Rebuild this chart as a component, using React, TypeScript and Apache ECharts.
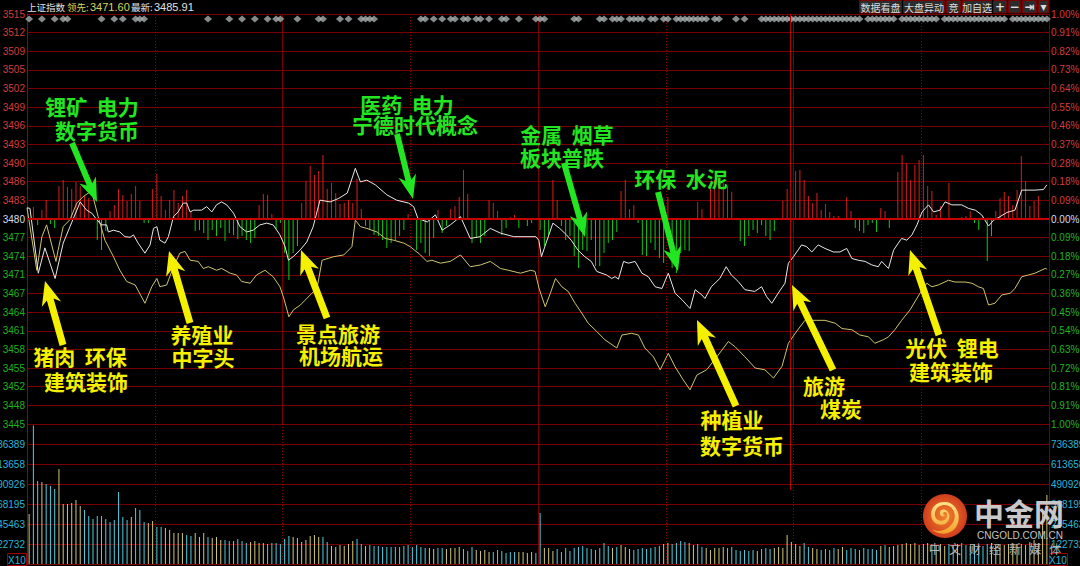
import React, { useEffect, useRef } from 'react';
import * as echarts from 'echarts';

// ---------------- data ----------------
const preClose = 3480.1;
const leadValue = '3471.60';
const lastValue = '3485.91';

// left price labels, top to bottom
const priceTickLabels = ['3515','3512','3509','3505','3502','3499','3496','3493','3490','3486','3483','3480','3477','3474','3471','3467','3464','3461','3458','3455','3452','3448','3445'];
// right percent labels, top to bottom
const pctTickLabels = ['1.00%','0.91%','0.82%','0.73%','0.64%','0.55%','0.46%','0.37%','0.28%','0.18%','0.09%','0.00%','0.09%','0.18%','0.27%','0.36%','0.45%','0.54%','0.63%','0.72%','0.81%','0.91%','1.00%'];
// volume labels, bottom to top
const volumeTickLabels = ['122732','245463','368195','490926','613658','736389'];
const volumeAxisStep = 122732;
const volumeAxisMax = 859124;

// [minute, price]
const whiteLine = [
[0,3482.0],[0.7,3481.9],[2.65,3470.9],[4.2,3475.2],[6.6,3470.0],[8.5,3476.0],[10.1,3478.8],[12.5,3483.0],[14,3481.6],[15.2,3481.1],[16.5,3479.9],[17.5,3479.1],[18.7,3479.1],[19.1,3477.9],[20.3,3478.2],[21.8,3477.9],[23,3477.1],[24.2,3477.0],[25,3477.4],[26.1,3476.0],[27.7,3474.3],[28.9,3475.7],[29.7,3478.5],[30.5,3478.8],[31.2,3476.5],[32.4,3476.0],[33.2,3477.1],[34.4,3480.5],[35.5,3481.3],[36.7,3482.8],[37.5,3482.8],[38.3,3481.3],[39.1,3481.6],[41,3481.6],[42.2,3482.2],[43.4,3481.3],[44.5,3482.5],[45.7,3483.0],[46.9,3482.5],[48.5,3481.1],[50,3478.8],[51.6,3477.9],[53.1,3478.2],[54.7,3479.1],[56.3,3479.4],[57.8,3479.1],[59.4,3477.4],[60.6,3475.4],[61.4,3473.1],[62.5,3473.7],[64.1,3474.8],[65.7,3476.2],[67.2,3478.8],[68.8,3483.3],[71.2,3483.0],[73.2,3483.6],[75.2,3484.5],[77.1,3488.7],[78.3,3486.4],[79.8,3486.7],[81.8,3485.9],[84.5,3484.2],[86.8,3483.3],[89.6,3482.8],[90.8,3482.2],[91.8,3480.2],[94,3479.6],[95.9,3480.8],[97.5,3478.2],[99.4,3479.1],[101.8,3480.5],[104.1,3476.8],[106.4,3477.1],[108.8,3478.5],[111.2,3477.7],[114.3,3477.1],[117.4,3477.1],[119.5,3477.1],[120.2,3476.5],[120.8,3473.7],[123.5,3479.4],[125.1,3478.5],[126.7,3477.4],[127.8,3476.5],[129.4,3474.8],[131,3473.7],[132.5,3472.9],[133.8,3471.2],[136.1,3470.6],[137.3,3470.0],[138.1,3470.3],[138.9,3469.9],[140.1,3472.9],[141.2,3472.6],[142.8,3472.9],[144.4,3470.9],[145.9,3470.3],[147.5,3468.6],[149.1,3468.3],[150.6,3470.9],[152.2,3467.5],[153.8,3466.4],[155.7,3464.9],[156.9,3468.1],[158.5,3467.2],[159.2,3466.6],[160.7,3468.6],[162.7,3470.0],[164.2,3472.0],[165.4,3470.6],[167,3469.5],[168.6,3468.1],[170.9,3467.8],[172.5,3468.6],[173.7,3466.9],[174.9,3465.8],[176.4,3467.5],[178,3469.2],[178.8,3472.6],[180,3473.7],[181.9,3475.7],[183.1,3475.4],[184.3,3474.5],[185.8,3475.7],[187.4,3475.1],[189.4,3474.5],[190.9,3474.5],[192.5,3475.1],[193.7,3473.4],[195.2,3473.1],[196.8,3472.9],[198.4,3472.3],[199.9,3472.0],[200.7,3472.9],[202.3,3471.7],[203.5,3474.8],[204.6,3476.0],[205.4,3476.8],[206.6,3476.5],[207.8,3477.4],[209,3479.1],[210.2,3481.3],[211.7,3482.5],[212.9,3481.3],[214.4,3481.6],[215.6,3483.0],[217.2,3482.5],[219.5,3482.5],[221.1,3481.9],[222.7,3481.6],[224.2,3480.8],[225.8,3478.9],[227,3479.9],[228.5,3480.5],[230.1,3481.2],[232,3481.6],[233.6,3485.0],[235.1,3485.0],[236.7,3485.0],[238.7,3485.1],[239.5,3485.9]
];

const yellowLine = [
[0,3482.0],[2.3,3471.4],[3.5,3477.1],[4.6,3479.1],[6.8,3472.9],[7.3,3474.8],[8.5,3478.8],[10.1,3480.0],[11.7,3482.8],[13.2,3483.9],[14.8,3484.7],[15.5,3483.9],[16.7,3480.5],[18.3,3476.5],[20.3,3473.7],[21.8,3471.4],[23.4,3469.5],[25.4,3468.9],[27.7,3465.8],[29.3,3468.6],[30.5,3470.0],[31.2,3468.6],[32.8,3468.9],[34.4,3472.0],[35.9,3474.3],[37.1,3474.6],[38.3,3473.1],[40.2,3472.9],[41.4,3471.7],[42.6,3472.0],[44.5,3471.4],[45.7,3471.7],[47.7,3470.9],[49.2,3470.6],[50.4,3469.5],[52.4,3469.2],[53.9,3470.6],[55.9,3471.4],[57.8,3470.3],[59.4,3468.6],[60.2,3466.9],[61.5,3463.5],[62.6,3464.7],[64.2,3465.5],[66.9,3467.5],[68.1,3468.3],[69.3,3473.1],[72,3473.7],[74.4,3474.0],[76.3,3475.4],[77.1,3479.9],[78.3,3478.8],[79.8,3478.5],[82.2,3477.9],[84.1,3476.8],[86.1,3476.5],[88.5,3476.0],[90,3475.4],[92.4,3474.0],[93.9,3472.9],[95.1,3473.1],[97.1,3472.6],[99.4,3472.9],[101.8,3474.0],[104.1,3472.0],[106.5,3472.3],[108.8,3472.9],[111.2,3471.7],[113,3471.4],[115.9,3470.9],[118.3,3471.4],[119.3,3471.2],[120.3,3468.2],[121.7,3465.2],[122.9,3467.5],[124.1,3470.0],[125.6,3468.6],[127.1,3467.8],[128.7,3465.8],[130.3,3464.1],[131.8,3462.4],[133.8,3461.0],[135.7,3459.6],[138.5,3458.2],[139.7,3460.4],[142,3460.7],[143.6,3460.4],[145.1,3458.2],[147.1,3456.7],[148.7,3454.5],[150.6,3457.3],[152.2,3455.0],[154.1,3452.8],[155.7,3451.1],[157.3,3453.6],[159.6,3454.5],[162,3456.7],[164.7,3459.3],[166.3,3458.4],[168.6,3456.7],[171,3454.8],[173.3,3454.5],[175.3,3453.1],[177.3,3455.1],[178.8,3459.0],[180.4,3460.7],[182.7,3462.9],[185.5,3462.9],[187.4,3462.9],[189.8,3462.4],[191.4,3461.5],[193.7,3461.3],[195.6,3460.4],[197.6,3460.1],[199.1,3459.0],[201.1,3459.6],[202.3,3460.1],[203.8,3461.3],[205.4,3462.9],[207.4,3464.7],[209.7,3467.5],[211.3,3469.2],[212.5,3468.6],[214,3468.9],[216.4,3469.7],[217.9,3469.4],[220.3,3469.4],[221.9,3469.2],[223.4,3468.6],[224.6,3468.3],[225.8,3465.5],[227.3,3465.8],[228.9,3467.2],[230.9,3467.5],[232,3468.3],[233.6,3470.3],[235.2,3470.6],[236.7,3470.9],[239.1,3471.7],[239.5,3471.6]
];

// market breadth bars [minute, value]: up (red) and down (green)
const breadthUp = [
[1,12],[3,9],[4,19],[7,33],[8,39],[9,32],[10,30],[11,37],[12,33],[13,23],[14,21],[19,8],[20,14],[21,30],[22,24],[23,18],[24,25],[25,33],[26,18],[29,30],[30,45],[31,23],[32,9],[33,19],[34,29],[35,16],[36,23],[37,29],[38,8],[54,14],[55,25],[56,24],[57,5],[64,16],[65,38],[66,53],[67,44],[68,48],[69,64],[70,30],[71,36],[72,26],[73,15],[74,16],[75,19],[76,16],[77,40],[78,10],[89,5],[96,9],[99,10],[100,13],[101,22],[102,49],[103,25],[108,19],[109,16],[110,8],[113,2],[114,4],[123,39],[124,19],[139,28],[140,39],[141,10],[142,14],[150,22],[157,17],[158,10],[160,30],[161,39],[162,43],[163,36],[164,33],[165,27],[177,18],[178,30],[180,48],[181,49],[182,39],[183,23],[184,16],[185,26],[186,9],[187,15],[188,7],[189,3],[190,3],[192,22],[193,8],[200,11],[201,8],[204,47],[205,64],[206,56],[207,39],[208,54],[209,59],[210,64],[211,33],[212,28],[213,4],[214,13],[216,36],[219,2],[220,3],[221,8],[224,2],[227,8],[228,21],[229,27],[230,23],[231,14],[232,29],[233,63],[234,38],[235,13],[236,18],[237,23]
];
const breadthDown = [
[2,-6],[5,-5],[6,-9],[16,-21],[17,-31],[18,-12],[27,-4],[28,-4],[39,-12],[40,-11],[41,-14],[42,-21],[43,-11],[44,-17],[45,-9],[46,-22],[47,-14],[48,-16],[49,-20],[50,-17],[51,-21],[52,-24],[53,-19],[58,-10],[59,-4],[60,-34],[61,-61],[62,-34],[63,-27],[79,-7],[80,-11],[81,-16],[82,-17],[83,-21],[84,-29],[85,-24],[86,-21],[87,-17],[88,-11],[91,-31],[92,-24],[93,-34],[94,-37],[95,-19],[97,-14],[98,-7],[104,-24],[105,-19],[106,-24],[107,-17],[111,-16],[112,-9],[115,-9],[117,-7],[118,-4],[120,-11],[121,-27],[122,-16],[125,-7],[126,-21],[127,-17],[128,-37],[129,-49],[130,-31],[131,-32],[132,-21],[133,-47],[134,-47],[135,-34],[136,-24],[137,-21],[138,-13],[143,-4],[144,-36],[145,-37],[146,-24],[147,-31],[148,-39],[149,-44],[151,-49],[152,-54],[153,-34],[154,-31],[155,-32],[167,-22],[168,-27],[169,-17],[170,-11],[171,-14],[172,-6],[173,-17],[174,-21],[175,-12],[194,-9],[195,-12],[196,-14],[197,-6],[198,-4],[199,-13],[202,-9],[222,-4],[223,-11],[225,-42],[226,-17]
];

// per-minute volume (thousands, X10 units), minutes 0..239
const volumeK = [
307,850,509,503,491,479,460,583,368,368,374,393,356,331,295,276,295,295,276,258,270,442,
288,270,288,344,331,258,252,264,227,227,221,209,190,190,190,178,172,190,166,190,
166,160,166,147,147,141,141,153,141,129,135,141,129,129,123,129,129,123,153,172,
166,160,135,147,172,178,166,166,135,110,104,117,110,123,141,153,123,110,117,110,
110,104,104,104,104,104,110,117,104,117,104,98,98,92,98,98,92,98,98,104,
92,80,104,86,80,86,74,74,86,80,68,74,74,74,74,68,74,68,
313,98,98,80,92,74,98,80,98,104,110,98,92,86,98,129,110,98,104,117,
104,92,86,92,98,92,98,104,110,123,129,123,129,141,135,129,117,123,104,98,
86,98,98,104,98,104,86,80,86,80,86,80,92,98,92,98,104,98,178,135,
123,110,129,104,98,92,86,92,86,98,92,104,86,98,92,86,98,92,92,86,
110,117,104,110,117,123,129,123,129,117,123,129,123,117,123,110,123,117,123,129,
117,110,123,117,110,123,129,117,123,117,123,129,117,123,117,135,147,129,338,423
];

// event markers along the top
const diamondMinutes = [0,3,6,8,9,17,20,22,25,26,27,42,47,50,53,56,58,59,63,68,69,73,75,78,79,80,81,92,93,95,97,99,100,102,103,105,106,108,111,112,115,119,120,121,128,129,134,135,137,138,139,141,142,143,144,146,147,149,150,152,153,154,155,156,157,158,159,161,162,166,168,172,173,174,175,176,177,178,179,180,181,182,183,184,185,186,187,188,189,190,191,192,193,194,195,197,198,199,200,201,202,203,205,206,207,208,209,210,211,212,213,215,216,217,218,219,220,221,222,223,224,225,226,227,228,229,231,232,233,234,235,236,237,238,239];

// annotations
const greenNotes = [
  { text: '锂矿  电力', x: 92, y: 106 }, { text: '数字货币', x: 97, y: 130 },
  { text: '医药  电力', x: 407, y: 104 }, { text: '宁德时代概念', x: 415, y: 124 },
  { text: '金属  烟草', x: 567, y: 134 }, { text: '板块普跌', x: 562, y: 157 },
  { text: '环保  水泥', x: 681, y: 178 },
];
const yellowNotes = [
  { text: '猪肉  环保', x: 80, y: 356 }, { text: '建筑装饰', x: 86, y: 381 },
  { text: '养殖业', x: 202, y: 334 }, { text: '中字头', x: 203, y: 357 },
  { text: '景点旅游', x: 338, y: 333 }, { text: '机场航运', x: 341, y: 355 },
  { text: '种植业', x: 732, y: 419 }, { text: '数字货币', x: 742, y: 445 },
  { text: '旅游', x: 824, y: 385 }, { text: '煤炭', x: 841, y: 408 },
  { text: '光伏  锂电', x: 952, y: 347 }, { text: '建筑装饰', x: 951, y: 371 },
];
const greenArrows = [
  [72, 143, 97, 202], [397, 134, 413, 199], [564, 163, 585, 237], [658, 192, 678, 271],
];
const yellowArrows = [
  [63, 345, 45, 281], [190, 323, 169, 251], [327, 318, 301, 250],
  [736, 406, 697, 320], [833, 370, 792, 285], [939, 335, 910, 250],
];
const topButtons = [
  ['数据看盘', 859, 902], ['大盘异动', 903, 945], ['竞', 946, 961], ['加自选', 962, 992],
  ['+', 993, 1007], ['−', 1008, 1021], ['⇥', 1022, 1037], ['▾', 1038, 1049],
];

// ---------------- helpers ----------------
const STEP = preClose / 1100;
const toStep = (p: number) => (p - preClose) / STEP;
const CJK = '"Noto Sans CJK SC", "Noto Sans", sans-serif';
const NUM = '"Liberation Sans", Arial, sans-serif';
const GRID_RED = '#780000';
const AXIS_RED = '#a00000';
const GREEN_TXT = '#22e622';
const YELLOW_TXT = '#f4f000';
const VOL_UP = '#cfc67a';
const VOL_DN = '#50cde0';
const VOL_LABEL = '#2ab4d8';

function priceAt(m: number) {
  for (let k = 1; k < whiteLine.length; k++) {
    if (whiteLine[k][0] >= m) {
      const [x0, y0] = whiteLine[k - 1];
      const [x1, y1] = whiteLine[k];
      return y0 + ((y1 - y0) * (m - x0)) / (x1 - x0);
    }
  }
  return whiteLine[whiteLine.length - 1][1];
}

function arrowPoints(tx: number, ty: number, hx: number, hy: number, shaftW: number, headW: number, headL: number) {
  const dx = hx - tx, dy = hy - ty;
  const len = Math.hypot(dx, dy);
  const ux = dx / len, uy = dy / len;
  const px = -uy, py = ux;
  const bx = hx - ux * headL, by = hy - uy * headL;
  const nx = hx - ux * headL * 0.8, ny = hy - uy * headL * 0.8;
  return [
    [tx + (px * shaftW) / 2, ty + (py * shaftW) / 2],
    [nx + (px * shaftW) / 2, ny + (py * shaftW) / 2],
    [bx + (px * headW) / 2, by + (py * headW) / 2],
    [hx, hy],
    [bx - (px * headW) / 2, by - (py * headW) / 2],
    [nx - (px * shaftW) / 2, ny - (py * shaftW) / 2],
    [tx - (px * shaftW) / 2, ty - (py * shaftW) / 2],
  ];
}

function txt(text: string, x: number, y: number, fill: string, fontSize: number, fontFamily: string, align = 'center', fontWeight: any = 'normal') {
  return {
    type: 'text', x, y, z: 100, silent: true,
    style: { text, fill, fontSize, fontFamily, fontWeight, textAlign: align, textVerticalAlign: 'middle' },
  };
}

const SWIRL_D = 'M52 18 C30 18 18 36 24 54 C28 66 42 72 54 66 C64 60 66 46 58 38 C52 32 42 34 42 42 C42 48 48 52 54 48 C50 46 48 44 50 41 C54 38 60 42 58 50 C56 58 46 62 38 58 C28 52 28 36 40 28 C52 20 70 26 74 42 C78 58 68 74 50 80 C40 84 30 82 24 78 C34 90 58 92 72 80 C86 68 88 44 76 30 C70 22 62 18 52 18 Z';
let swirlRegistered = false;
function ensureSwirl() {
  if (swirlRegistered) return;
  echarts.graphic.registerShape('cnSwirl', echarts.graphic.extendPath(SWIRL_D, {}));
  swirlRegistered = true;
}

function buildOption(volLabelYs: number[] | null) {
  const labelRich = {
    r: { color: '#d43c3c', fontSize: 10, fontFamily: NUM },
    w: { color: '#d8dcf0', fontSize: 10, fontFamily: NUM },
    g: { color: '#1fb41f', fontSize: 10, fontFamily: NUM },
  };
  const wrap = (k: number, s: string) => (k > 0 ? `{r|${s}}` : k < 0 ? `{g|${s}}` : `{w|${s}}`);
  const priceFmt = (v: number) => { const k = Math.round(v); return wrap(k, priceTickLabels[11 - k]); };
  const pctFmt = (v: number) => { const k = Math.round(v); return wrap(k, pctTickLabels[11 - k]); };

  const xBase = { type: 'value', min: 0, max: 240, axisLine: { show: false }, axisTick: { show: false }, axisLabel: { show: false } };
  const dotted = { show: true, lineStyle: { color: '#8a0000', width: 1, type: [1, 2] } };
  const solid = { show: true, lineStyle: { color: GRID_RED, width: 1, type: 'solid' } };

  const breadthData = [
    ...breadthUp.map(([m, v]) => ({ value: [m + 0.5, v], itemStyle: { color: '#d61e1e' } })),
    ...breadthDown.map(([m, v]) => ({ value: [m + 0.5, v], itemStyle: { color: '#14c814' } })),
  ];
  const volData = volumeK.map((v, i) => {
    const up = i === 0 || priceAt(i + 1) >= priceAt(i);
    return { value: [i + 0.5, v * 1000], itemStyle: { color: up ? VOL_UP : VOL_DN } };
  });

  const graphic: any[] = [];
  // title row
  graphic.push(txt('上证指数', 27, 7, '#e0e0e0', 9.5, CJK, 'left'));
  graphic.push(txt('领先:', 67, 7, '#d6d65a', 9.5, CJK, 'left'));
  graphic.push(txt(leadValue, 90, 7, '#d6d65a', 11, NUM, 'left'));
  graphic.push(txt('最新:', 131, 7, '#e0e0e0', 9.5, CJK, 'left'));
  graphic.push(txt(lastValue, 154, 7, '#e0e0e0', 11, NUM, 'left'));
  // buttons
  topButtons.forEach(([label, x0, x1]: any) => {
    graphic.push({ type: 'rect', z: 99, silent: true, shape: { x: x0 + 0.5, y: 0.5, width: x1 - x0 - 1, height: 12.5 }, style: { fill: '#2c2c2c', stroke: '#7a0000', lineWidth: 1 } });
    const sym = label.length === 1 && !/[\u4e00-\u9fff]/.test(label);
    graphic.push(txt(label, (x0 + x1) / 2, 7, '#dcdcdc', sym ? 12 : 10, sym ? '"DejaVu Sans", sans-serif' : CJK, 'center', sym ? 'bold' : 'normal'));
  });
  // special vertical marker line
  graphic.push({ type: 'line', z: 5, silent: true, shape: { x1: 790.5, y1: 14, x2: 790.5, y2: 490 }, style: { stroke: '#b00000', lineWidth: 1 } });
  // arrows and notes
  greenArrows.forEach(([a, b, c, d]) => graphic.push({ type: 'polygon', z: 100, silent: true, shape: { points: arrowPoints(a, b, c, d, 6, 18, 24) }, style: { fill: GREEN_TXT } }));
  yellowArrows.forEach(([a, b, c, d]) => graphic.push({ type: 'polygon', z: 100, silent: true, shape: { points: arrowPoints(a, b, c, d, 7, 20, 24) }, style: { fill: YELLOW_TXT } }));
  greenNotes.forEach((n) => graphic.push(txt(n.text, n.x, n.y, GREEN_TXT, 21, CJK, 'center', 'bold')));
  yellowNotes.forEach((n) => graphic.push(txt(n.text, n.x, n.y, YELLOW_TXT, 21, CJK, 'center', 'bold')));
  // X10 boxes
  graphic.push({ type: 'rect', z: 99, silent: true, shape: { x: 7.5, y: 553.5, width: 19, height: 12 }, style: { fill: '#000', stroke: AXIS_RED, lineWidth: 1 } });
  graphic.push(txt('X10', 17, 560, VOL_LABEL, 10, NUM));
  graphic.push({ type: 'rect', z: 99, silent: true, shape: { x: 1049.5, y: 553.5, width: 18, height: 12 }, style: { fill: '#000', stroke: AXIS_RED, lineWidth: 1 } });
  graphic.push(txt('X10', 1058, 560, VOL_LABEL, 10, NUM));
  // volume axis labels (clipped by the page edges like the original)
  if (volLabelYs) {
    volLabelYs.forEach((y, i) => {
      graphic.push(txt(volumeTickLabels[i], 25, y, VOL_LABEL, 10, NUM, 'right'));
      graphic.push(txt(volumeTickLabels[i], 1051, y, VOL_LABEL, 10, NUM, 'left'));
    });
  }
  // watermark logo
  graphic.push({ type: 'circle', z: 110, silent: true, shape: { cx: 945, cy: 516, r: 22 },
    style: { fill: new echarts.graphic.RadialGradient(0.5, 0.5, 0.6, [{ offset: 0, color: '#f3822c' }, { offset: 1, color: '#c9301a' }]) } });
  graphic.push({ type: 'cnSwirl', z: 111, silent: true, x: 921, y: 494, scaleX: 0.45, scaleY: 0.45,
    style: { fill: new echarts.graphic.LinearGradient(0, 0, 0, 1, [{ offset: 0, color: '#ffe487' }, { offset: 1, color: '#f3a12a' }]) } });
  graphic.push({ ...txt('中金网', 1019, 512, '#c8c8c8', 30, CJK, 'center', 'bold'), z: 110 });
  graphic.push({ ...txt('CNGOLD.COM.CN', 1020, 535, '#c4c4c4', 10, NUM, 'center'), z: 110 });
  graphic.push({ ...txt('中   文   财   经   新   媒   体', 995, 548, '#b4b4b4', 12, CJK, 'center'), z: 110 });

  return {
    backgroundColor: '#000',
    animation: false,
    grid: [
      { left: 27, top: 14, width: 1022, height: 410, outerBoundsMode: 'none' },
      { left: 27, top: 424, width: 1022, height: 140, outerBoundsMode: 'none' },
    ],
    xAxis: [
      { ...xBase, gridIndex: 0, interval: 30, splitLine: dotted },
      { ...xBase, gridIndex: 0, interval: 60, splitLine: solid },
      { ...xBase, gridIndex: 1, interval: 30, splitLine: dotted },
      { ...xBase, gridIndex: 1, interval: 120, splitLine: solid },
    ],
    yAxis: [
      { gridIndex: 0, type: 'value', min: -11, max: 11, interval: 1, position: 'left',
        axisLine: { show: true, lineStyle: { color: AXIS_RED } }, axisTick: { show: false },
        splitLine: { show: true, lineStyle: { color: GRID_RED, width: 1 } },
        axisLabel: { margin: 2, formatter: priceFmt, rich: labelRich, showMinLabel: true, showMaxLabel: true } },
      { gridIndex: 0, type: 'value', min: -11, max: 11, interval: 1, position: 'right',
        axisLine: { show: true, lineStyle: { color: AXIS_RED } }, axisTick: { show: false }, splitLine: { show: false },
        axisLabel: { margin: 2, formatter: pctFmt, rich: labelRich, showMinLabel: true, showMaxLabel: true } },
      { gridIndex: 0, type: 'value', min: -205, max: 205, show: false },
      { gridIndex: 1, type: 'value', min: 0, max: volumeAxisMax, interval: volumeAxisStep, position: 'left',
        axisLine: { show: true, lineStyle: { color: AXIS_RED } }, axisTick: { show: false },
        splitLine: { show: true, lineStyle: { color: GRID_RED, width: 1 } }, axisLabel: { show: false } },
      { gridIndex: 1, type: 'value', min: 0, max: volumeAxisMax, interval: volumeAxisStep, position: 'right',
        axisLine: { show: true, lineStyle: { color: AXIS_RED } }, axisTick: { show: false }, splitLine: { show: false },
        axisLabel: { show: false } },
    ],
    series: [
      { type: 'bar', name: 'breadth', xAxisIndex: 0, yAxisIndex: 2, barWidth: 1, silent: true, data: breadthData,
        markLine: { silent: true, symbol: ['none', 'none'], label: { show: false },
          lineStyle: { color: '#c80000', width: 2, type: 'solid' }, data: [{ yAxis: 0 }] } },
      { type: 'bar', name: 'volume', xAxisIndex: 2, yAxisIndex: 3, barWidth: 1, silent: true, data: volData },
      { type: 'line', name: 'lead', xAxisIndex: 0, yAxisIndex: 0, showSymbol: false, silent: true,
        lineStyle: { color: '#cdc46c', width: 1 }, data: yellowLine.map(([m, p]) => [m, toStep(p)]) },
      { type: 'line', name: 'price', xAxisIndex: 0, yAxisIndex: 0, showSymbol: false, silent: true,
        lineStyle: { color: '#e8e8e8', width: 1 }, data: whiteLine.map(([m, p]) => [m, toStep(p)]) },
      { type: 'scatter', name: 'events', xAxisIndex: 0, yAxisIndex: 0, symbol: 'diamond', symbolSize: [8, 7], silent: true,
        itemStyle: { color: '#a6aeae' }, data: diamondMinutes.map((m) => [m + 0.5, 10.73]) },
    ],
    graphic,
  };
}

export default function App() {
  const ref = useRef<HTMLDivElement>(null);
  useEffect(() => {
    if (!ref.current) return;
    ensureSwirl();
    const chart = echarts.init(ref.current, null, { renderer: 'svg' });
    chart.setOption(buildOption(null) as any);
    const ys = volumeTickLabels.map((_, i) => chart.convertToPixel({ yAxisIndex: 3 } as any, (i + 1) * volumeAxisStep) as any as number);
    chart.setOption(buildOption(ys) as any, { notMerge: true });
    return () => chart.dispose();
  }, []);
  return <div ref={ref} style={{ position: 'fixed', left: 0, top: 0, width: 1080, height: 566, background: '#000' }} />;
}
